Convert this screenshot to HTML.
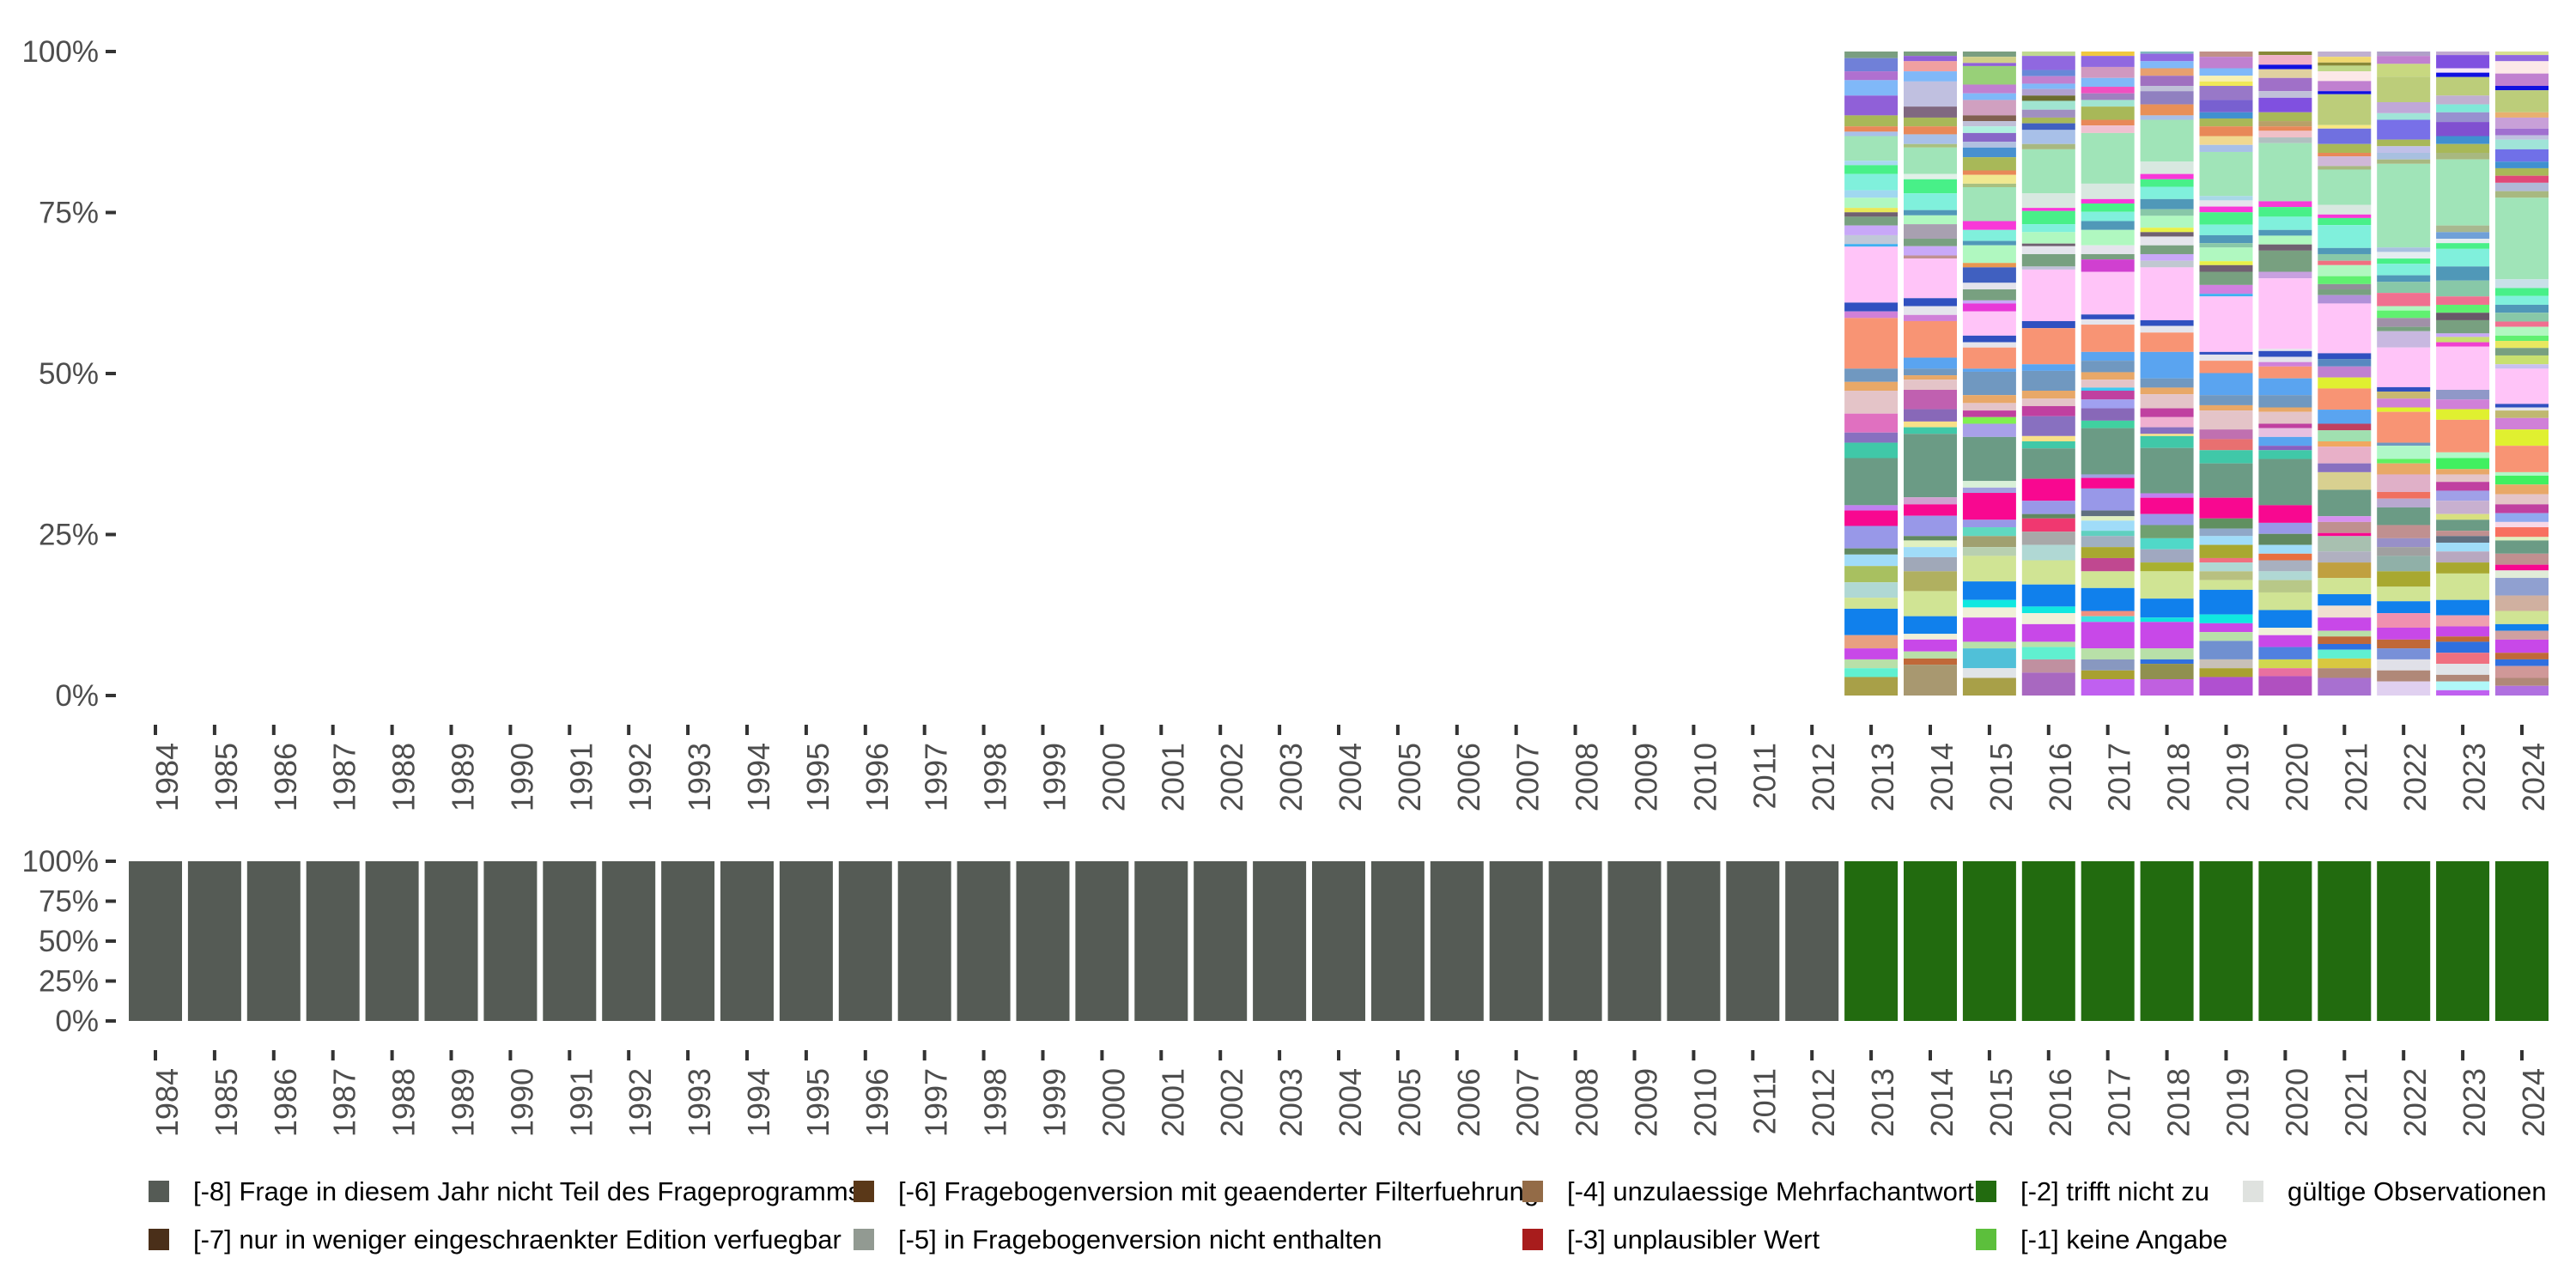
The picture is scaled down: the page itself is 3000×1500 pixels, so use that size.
<!DOCTYPE html>
<html><head><meta charset="utf-8"><style>
html,body{margin:0;padding:0;background:#fff;}
svg{display:block;font-family:"Liberation Sans",sans-serif;}
</style></head><body>
<svg id="chart" width="3000" height="1500" viewBox="0 0 3000 1500" xmlns="http://www.w3.org/2000/svg">
<g id="top-panel"></g>
<g id="bottom-panel"></g>
<g id="legend"></g>
</svg>
<script>
const years = [];
for (let y = 1984; y <= 2024; y++) years.push(String(y));
const yTickValues = [0, 0.25, 0.5, 0.75, 1];
const yTickLabels = ["0%", "25%", "50%", "75%", "100%"];

// top panel: answer-category counts per year, listed top-to-bottom
const v2013=[15,30,20,35,45,25,12,10,56,10,20,37,17,23,10,10,20,22,20,6,127,20,15,115,30,20,52,43,23,35,107,12,35,51,14,26,37,35,25,60,30,25,20,20,42];
const c2013=['#7a9e80','#7080d8','#b070d0','#80b8f8','#9060d8','#a8b858','#e88858','#a8c0e8','#a0e4b8','#a8d8f0','#48f088','#80f0dc','#a0d8f0','#b0f8c0','#e8e858','#706070','#78a080','#c8a8f8','#c0c8d8','#40b0f0','#ffc4f8','#3050c0','#d080d8','#f89474','#7098c0','#e8a868','#e4c4c8','#e070c0','#8870c0','#40c8a8','#6b9b85','#c080f0','#f80890','#9898e8','#608860','#a0dcf8','#a8c060','#b0d8d4','#d0e494','#1080ec','#e8a080','#c848e8','#b8e0a8','#60f0d0','#a8a048'];
const v2014=[10,12,23,23,57,25,20,18,22,8,60,12,32,38,12,20,33,17,21,7,90,18,20,14,83,25,15,10,23,44,28,13,15,144,16,26,46,10,15,23,32,45,57,40,13,27,16,14,70];
const c2014=['#7a9e80','#9060d8','#f0a0a0','#80b8f8','#c0c0e0','#806880','#a8b858','#e88858','#a8c0e8','#a8c080','#a0e4b8','#e0f0e8','#48f088','#80f0dc','#5098b8','#b0f8c0','#a8a0b0','#78a080','#c8a8f8','#c09090','#ffc4f8','#3050c0','#e4e4ec','#d080d8','#f89474','#5aa4f0','#7098c0','#e8a868','#e4c4c8','#c060b0','#8868b8','#f8e088','#40c8a8','#6b9b85','#d0a0d0','#f80890','#9898e8','#608860','#e0f0c0','#a0dcf8','#a0a8b8','#b0b060','#d0e494','#1080ec','#f0f0d8','#c848e8','#b8e0a8','#c06838','#a89870'];
const v2015=[12,14,7,42,20,15,35,13,12,15,20,13,22,30,10,20,8,77,20,25,10,40,10,35,15,25,7,18,55,15,12,48,7,53,18,17,15,15,30,100,15,12,61,17,20,25,20,58,42,17,23,55,15,45,22,40];
const c2015=['#7a9e80','#d0d088','#9060d8','#98d078','#c080d0','#80b8f8','#d0a0c0','#806050','#c0c0d8','#b0f0e0','#8868c8','#b0c0e0','#4890d0','#a8b858','#e88858','#f0e890','#a8c080','#a0e4b8','#f838d8','#80f0dc','#5098b8','#b0f8c0','#e89850','#4060c0','#e4e4ec','#78a080','#c8a8f8','#e838d8','#ffc4f8','#3050c0','#e4e4ec','#f89474','#5aa4f0','#7098c0','#e8a868','#e4c4c8','#c040a0','#80f050','#a8a0e8','#6b9b85','#d8f0d8','#a0a0e0','#f80890','#9898e8','#60d8c0','#a0a070','#b8d0b0','#d0e494','#1080ec','#10e8e0','#f0f0d8','#c848e8','#b8e0a8','#50c0d8','#e0e4e8','#a8a048'];
const v2016=[10,32,14,17,12,15,12,20,18,13,15,32,12,100,33,7,30,18,26,6,18,28,7,117,16,82,15,45,18,17,23,45,12,16,69,50,30,10,30,30,35,55,50,15,25,40,12,28,30,52];
const c2016=['#c0d890','#9068e0','#6888d8','#c080d0','#80b8f8','#b0a0d0','#6c6c30','#a0e4d0','#a090c0','#a8b858','#4060c0','#a8c0e8','#a8b880','#a0e4b8','#d8e8e0','#f838d8','#48f088','#80f0dc','#b0f8c0','#706070','#e4e4ec','#78a080','#c0c0d8','#ffc4f8','#3050c0','#f89474','#5aa4f0','#7098c0','#e8a868','#e4c4c8','#c040a0','#8870c0','#f8e088','#40c8a8','#6b9b85','#f80890','#9898e8','#608860','#f03870','#a8a8a8','#b0d8d4','#d0e494','#1080ec','#10e8e0','#f0f0d8','#c848e8','#b8e0a8','#60f0d0','#c090a0','#a868c0'];
const v2017=[10,25,25,20,15,15,15,30,13,17,115,35,10,19,21,20,35,20,12,28,97,11,12,62,20,26,17,18,7,20,20,28,17,105,8,24,50,13,10,23,12,25,25,30,38,52,12,13,60,25,25,20,37];
const c2017=['#f0c840','#9068e0','#d098c0','#80b8f8','#f050c0','#a080c0','#a0e4d0','#a8b858','#e88858','#f0c0d0','#a0e4b8','#d8e8e0','#f838d8','#48f088','#80f0dc','#5098b8','#b0f8c0','#e4e4ec','#78a080','#d040d0','#ffc4f8','#3050c0','#e4e4ec','#f89474','#5aa4f0','#7098c0','#e8a868','#e4c4c8','#40c8f0','#c040a0','#a0a0f0','#8868b8','#40d0a0','#6b9b85','#a0a0e0','#f80890','#9898e8','#607080','#e0f0c0','#a0dcf8','#60d0c0','#a0b0c0','#a8a830','#c04890','#d0e494','#1080ec','#f09080','#40e0e0','#c848e8','#b8e0a8','#8898c0','#a8a030','#c060f0'];
const v2018=[5,17,16,17,23,12,30,25,10,95,28,12,17,28,23,15,27,10,10,20,20,15,15,120,13,15,44,60,21,15,32,20,23,15,5,27,103,10,37,25,30,25,30,20,62,43,10,60,25,10,35,37];
const c2018=['#80b8c0','#9068e0','#80b8f8','#e8a070','#a070c0','#c0c0d8','#9080c0','#e89058','#a8c0e8','#a0e4b8','#d8e8e0','#f838d8','#48f088','#80f0dc','#5098b8','#88c8a8','#b0f8c0','#e8f048','#706070','#e4e4ec','#78a080','#c8a8f8','#c0c8d0','#ffc4f8','#3050c0','#e4e4ec','#f89474','#5aa4f0','#7098c0','#e8a868','#e4c4c8','#c040a0','#f0b0d0','#8870c0','#f8e088','#40c8a8','#6b9b85','#c080f0','#f80890','#9898e8','#70a070','#50d8c8','#a0a8c0','#a8b030','#d0e494','#1080ec','#10e0e0','#c848e8','#b8e0a8','#3070e0','#909050','#c060e0'];
const v2019=[12,26,17,13,10,32,28,14,18,22,20,16,100,10,14,13,28,24,18,10,31,9,15,30,20,6,126,6,14,28,50,23,12,43,22,25,30,78,47,23,17,20,30,10,20,20,22,56,20,20,20,42,20,20,42];
const c2019=['#c09088','#c080d0','#80b8f8','#f8f0b0','#f0e858','#9878c8','#7860d0','#4090d0','#a8b858','#e88858','#f0d890','#a8c0e8','#a0e4b8','#a8d8e8','#e4e4ec','#f838d8','#48f088','#80f0dc','#5098b8','#88c8a8','#b0f8c0','#e8f048','#706070','#78a080','#d080e0','#40b0f0','#ffc4f8','#3050c0','#e4e4ec','#f89474','#5aa4f0','#7098c0','#e8a868','#e4c4c8','#c070b0','#e87070','#40c8a8','#6b9b85','#f80890','#609060','#90a8c8','#a0dcf8','#a8a830','#f07080','#b0d8d4','#b8c080','#d0e494','#1080ec','#10e8e0','#c848e8','#b8e0a8','#7090d0','#c8c0b8','#a8a030','#b050d0'];
const v2020=[8,22,10,20,30,15,33,20,12,10,15,13,132,13,22,30,13,20,14,48,15,160,5,13,12,10,27,38,28,10,27,10,20,20,10,20,105,40,25,25,20,15,25,20,28,40,40,17,27,28,20,18,44];
const c2020=['#888838','#f0b0c8','#1010e0','#e0d0a0','#a070c8','#c0c0d8','#8050e0','#a8b858','#b8a068','#e88858','#f0c0c8','#b0c0c0','#a0e4b8','#f838d8','#48f088','#80f0dc','#5098b8','#b0f8c0','#706070','#78a080','#c8a0e0','#ffc4f8','#e4e4ec','#3050c0','#e4e4ec','#d080d8','#f89474','#5aa4f0','#7098c0','#e8a868','#e4c4c8','#c040a0','#e8c0e0','#5aa4f0','#8860c0','#40c8a8','#6b9b85','#f80890','#9898e8','#608860','#a0dcf8','#e87040','#a8b0c0','#b0d8d4','#b8c888','#d0e494','#1080ec','#f0f0d8','#c848e8','#5080e0','#d0d850','#e870a0','#b050c0'];
const v2021=[12,13,7,13,22,23,7,70,8,35,20,8,22,8,80,22,8,16,52,14,15,10,25,18,12,13,19,113,13,17,25,25,48,32,15,25,12,38,20,40,60,13,25,7,35,25,35,37,26,27,30,13,17,13,20,22,22,40];
const c2021=['#c0b0d0','#f0d870','#888838','#c0d888','#fce8e8','#c080d0','#1010e0','#bccd7a','#f8e880','#7070e0','#a8b858','#e88858','#d0b8d8','#a8b880','#a0e4b8','#d8e8e0','#f838d8','#48f088','#80f0dc','#5098b8','#88c8a8','#f07080','#b0f8c0','#60f070','#909098','#78a080','#b090d8','#ffc4f8','#3050c0','#5888c0','#c080d0','#e0f030','#f89474','#5aa4f0','#c04060','#a0e0b0','#f0a860','#e8b0c8','#8870c0','#d8d090','#6b9b85','#d890f0','#c09090','#f80890','#a8c0b0','#b0b0c0','#c0a040','#d0e494','#1080ec','#f0e0d0','#c848e8','#b8e0a8','#c06838','#3070e0','#60f0d0','#d8c840','#b08878','#a870d0'];
const v2022=[10,18,29,58,25,15,45,15,15,15,10,190,10,15,12,26,15,25,30,10,17,20,10,37,90,10,16,20,10,70,7,30,10,25,40,15,20,40,30,20,20,35,35,33,27,33,27,20,25,25,25,32];
const c2022=['#b0a0c8','#c080d0','#c8d880','#bccd7a','#c0a8d8','#a0e4d8','#7870e8','#a8b858','#c0c0e8','#a8c0e0','#a8b880','#a0e4b8','#a8c0e0','#e4ecf0','#48f088','#80f0dc','#5098b8','#88c8a8','#f07090','#b0f8c0','#60f070','#a090a8','#78a080','#c8b8e0','#ffc4f8','#3050c0','#c8b870','#d080d8','#e0f030','#f89474','#7098c0','#b0f8c8','#60f060','#e8a868','#e0b0c8','#f07060','#b8a8d0','#6b9b85','#c09090','#9890c8','#a0a0a0','#90b0a8','#a8a830','#d0e494','#1080ec','#f090b0','#c848e8','#c06838','#7890d8','#e0e0e8','#b08878','#e0d0f0'];
const v2023=[8,30,10,10,42,20,18,22,32,18,20,15,150,15,15,10,13,40,32,36,19,18,17,30,8,12,10,98,22,22,24,74,13,25,12,17,20,23,30,13,25,12,15,20,25,25,60,35,25,23,12,25,25,25,15,20,12];
const c2023=['#c0a8d0','#8050e0','#f8e8f8','#1010e0','#bccd7a','#c0b0d0','#80e8d8','#9890d0','#8050d0','#4090d0','#a8b858','#a8b880','#a0e4b8','#a8b890','#70a0d8','#e4ecf0','#48f088','#80f0dc','#5098b8','#88c8a8','#f07090','#60f070','#685868','#78a080','#c8a8f8','#c8e070','#f040d0','#ffc4f8','#9098c8','#d080d8','#e0f030','#f89474','#b0f8c8','#40f060','#e8a868','#e4c4c8','#c040a0','#a0a0e8','#c8b0d0','#d8e080','#6b9b85','#c09090','#607080','#a0dcf8','#b8a8c0','#a8a830','#d0e494','#1080ec','#f0a0b0','#c848e8','#c06838','#3070e0','#f07080','#e0e4e8','#b08878','#b0f8f8','#c060f0'];
const v2024=[8,14,28,28,10,50,12,25,15,10,22,28,15,17,16,19,15,185,20,18,20,18,20,12,20,12,16,17,20,10,80,8,7,17,26,37,60,8,20,22,23,20,20,12,22,8,30,25,13,17,40,35,30,15,20,30,15,15,27,18,22];
const c2024=['#d8e090','#9068e0','#fce8e8','#c080d0','#1010e0','#bccd7a','#e8b070','#c8a0d8','#a070d0','#c0c0e0','#a0e4d8','#7070e8','#4090d0','#a8b858','#e04878','#b0b8d8','#a8b880','#a0e4b8','#c8e0e8','#48f088','#80f0dc','#5098b8','#88c8a8','#f07090','#b0f8c0','#60f070','#e8e860','#78a080','#c8e070','#c8c0f0','#ffc4f8','#3050c0','#e4e4ec','#c0b870','#d080d8','#e0f030','#f89474','#b0f8c8','#40f060','#e8a868','#e4c4c8','#c040a0','#90a8f0','#f8d8e8','#f87060','#e0f0c0','#6b9b85','#c09090','#f80890','#e0ecd8','#90a0d0','#d0b0a0','#d0e494','#1080ec','#d0a0a0','#c848e8','#c06838','#3070e0','#d09898','#b08878','#b070e0'];

// bottom panel: missing-code shares per year
const missingCodes = ["[-8] Frage in diesem Jahr nicht Teil des Frageprogramms","[-7] nur in weniger eingeschraenkter Edition verfuegbar","[-6] Fragebogenversion mit geaenderter Filterfuehrung","[-5] in Fragebogenversion nicht enthalten","[-4] unzulaessige Mehrfachantwort","[-3] unplausibler Wert","[-2] trifft nicht zu","[-1] keine Angabe","gültige Observationen"];
const missingColors = ["#555b55","#4a2f19","#5a3818","#929a92","#936b47","#a81c1c","#226b0f","#5cbf3c","#dfe2df"];
const shareMinus8 = [1,1,1,1,1,1,1,1,1,1,1,1,1,1,1,1,1,1,1,1,1,1,1,1,1,1,1,1,1,0,0,0,0,0,0,0,0,0,0,0,0];
const shareMinus2 = [0,0,0,0,0,0,0,0,0,0,0,0,0,0,0,0,0,0,0,0,0,0,0,0,0,0,0,0,0,1,1,1,1,1,1,1,1,1,1,1,1];

const NS = "http://www.w3.org/2000/svg";
function mk(tag, attrs, parent) {
  const e = document.createElementNS(NS, tag);
  for (const k in attrs) e.setAttribute(k, attrs[k]);
  parent.appendChild(e);
  return e;
}
const x0 = 181, step = 68.9, bw = 62;
function xScale(i) { return x0 + i * step; }
function yTop(v) { return 810 - 750 * v; }
function yBot(v) { return 1189 - 186 * v; }

function drawAxes(g, yFn, tickY0, labY) {
  yTickValues.forEach((v, i) => {
    const t = mk("rect", {x:123, y:yFn(v)-2, width:12, height:4, fill:"#333"}, g);
    
    
    const l = mk("text", {x:115, y:yFn(v)+12, "text-anchor":"end", "font-size":35, fill:"#4d4d4d"}, g);
    l.textContent = yTickLabels[i];
    
    
  });
  years.forEach((yr, i) => {
    const cx = xScale(i);
    const t = mk("rect", {x:cx-2, y:tickY0, width:4, height:12, fill:"#333"}, g);
    
    
    const l = mk("text", {x:0, y:0, "text-anchor":"end", "font-size":36, fill:"#4d4d4d",
      transform:`translate(${cx+26},${labY}) rotate(-90)`}, g);
    l.textContent = yr;
    
    
  });
}

const topG = document.getElementById("top-panel");
drawAxes(topG, yTop, 844, 865);
const topData = {2013:[v2013,c2013],2014:[v2014,c2014],2015:[v2015,c2015],2016:[v2016,c2016],2017:[v2017,c2017],2018:[v2018,c2018],2019:[v2019,c2019],2020:[v2020,c2020],2021:[v2021,c2021],2022:[v2022,c2022],2023:[v2023,c2023],2024:[v2024,c2024]};
years.forEach((yr, i) => {
  const d = topData[yr];
  if (!d) return;
  const vals = d[0], cols = d[1];
  const total = vals.reduce((a, b) => a + b, 0);
  let cum = total;
  vals.forEach((v, k) => {
    const top = yTop(cum / total);
    cum -= v;
    const bot = yTop(cum / total);
    const r = mk("rect", {x:xScale(i)-bw/2, y:top, width:bw, height:Math.max(0, bot-top), fill:cols[k] || "#cccccc"}, topG);
    
    
  });
});

const botG = document.getElementById("bottom-panel");
drawAxes(botG, yBot, 1223, 1244);
years.forEach((yr, i) => {
  let cum = 0;
  [[shareMinus8[i], missingColors[0]], [shareMinus2[i], missingColors[6]]].forEach(p => {
    if (!p[0]) return;
    const top = yBot(cum + p[0]), bot = yBot(cum);
    cum += p[0];
    const r = mk("rect", {x:xScale(i)-bw/2, y:top, width:bw, height:bot-top, fill:p[1]}, botG);
    
    
  });
});

const legG = document.getElementById("legend");
const legPos = [[173,1375],[173,1431],[994,1375],[994,1431],[1773,1375],[1773,1431],[2301,1375],[2301,1431],[2612,1375]];
missingCodes.forEach((name, i) => {
  const [lx, ly] = legPos[i];
  const k = mk("rect", {x:lx, y:ly, width:24, height:25, fill:missingColors[i]}, legG);
  
  
  const t = mk("text", {x:lx+52, y:ly+23, "font-size":31, fill:"#000"}, legG);
  t.textContent = name;
  
  
});
</script>
</body></html>
